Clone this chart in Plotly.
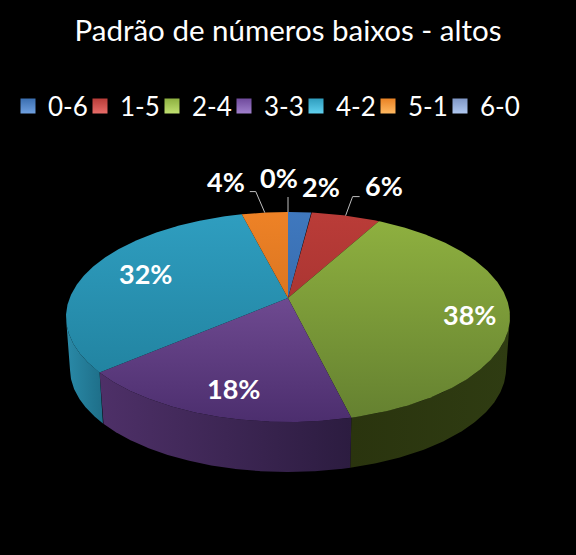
import numpy as np
import plotly.graph_objects as go

categories = ["0-6", "1-5", "2-4", "3-3", "4-2", "5-1", "6-0"]
values = [2, 6, 38.15, 17.65, 32.2, 4, 0]
legend_colors = ["#3A6EB0", "#B83C38", "#8DB040", "#6F4A9C", "#2F9DBE", "#E98224", "#7F97C6"]
legend_shine = ["#6FA0E0", "#E86C68", "#C0E070", "#A080CC", "#60D0EE", "#FFB860", "#B0C8F0"]
top_colors = [("#3F78BE", "#2F5F9C"), ("#BA3C38", "#962C2A"), ("#90B240", "#648030"),
              ("#865DA8", "#4C2E6E"), ("#2F9EC0", "#1E7C98"), ("#EE8226", "#C0641A"), ("#7F97C6", "#7F97C6")]
side_colors = [("#2A4F80", "#2A4F80"), ("#802A28", "#802A28"), ("#2A340E", "#2F3C12"),
               ("#4E3068", "#2C1C40"), ("#2A8AA8", "#1E6E88"), ("#A55A18", "#A55A18"), ("#5A6B8C", "#5A6B8C")]
# label offsets from the slice's rim point, in pixels (right, down)
label_shift = [(21, -26), (38, -30), (-40, 3), (27, -26), (55, 5), (-39, -31), (-9, -35)]
leader_slices = {"1-5": [(7, -19), (14, -19)], "5-1": [(-9, -21), (-15, -21)], "6-0": [(0, -15)]}

W, H = 576, 555
CX, CY, RX, RY = 288, 317, 222, 105
DEPTH, BOT_RX, BOT_RY = 52, 218, 103
TILT = 0.18


def project(theta):
    """Angle clockwise from 12 o'clock to the tilted disc's unit coordinates."""
    u, v = np.sin(theta), np.cos(theta)
    d = 1 + TILT * v
    return u * np.sqrt(1 - TILT ** 2) / d, (v + TILT) / d


apex = (0.0, TILT)
x_scale, y_scale = 1 / RX, 1 / RY

fig = go.Figure()
total = sum(values)
bounds = np.cumsum([0] + values) / total * 2 * np.pi

# side wall (bottom ellipse in top-face units)
for i, name in enumerate(categories):
    if values[i] == 0:
        continue
    th = np.linspace(bounds[i], bounds[i + 1], 240)
    u, v = project(th)
    keep = v <= 0.0
    if keep.sum() < 2:
        continue
    u, v = u[keep], v[keep]
    xb = u * BOT_RX / RX
    yb = v * BOT_RY / RY - DEPTH / RY
    c = side_colors[i]
    fig.add_trace(go.Scatter(
        x=np.r_[u, xb[::-1], u[0]], y=np.r_[v, yb[::-1], v[0]],
        mode="lines", fill="toself", line=dict(width=0), hoverinfo="skip", showlegend=False,
        fillgradient=dict(type="horizontal", colorscale=[[0, c[0]], [1, c[1]]]),
    ))

# top face
for i, name in enumerate(categories):
    if values[i] == 0:
        continue
    th = np.linspace(bounds[i], bounds[i + 1], 240)
    u, v = project(th)
    c = top_colors[i]
    fig.add_trace(go.Scatter(
        x=np.r_[apex[0], u, apex[0]], y=np.r_[apex[1], v, apex[1]],
        mode="lines", fill="toself", line=dict(width=0), hoverinfo="skip", showlegend=False,
        fillgradient=dict(type="vertical", start=1, stop=-1, colorscale=[[0, c[0]], [1, c[1]]]),
    ))

# leaders and labels
annotations = []
for i, name in enumerate(categories):
    mid = (bounds[i] + bounds[i + 1]) / 2
    ex, ey = project(mid)
    if name in leader_slices:
        pts = leader_slices[name]
        fig.add_trace(go.Scatter(
            x=[ex] + [ex + p[0] * x_scale for p in pts],
            y=[ey] + [ey - p[1] * y_scale for p in pts],
            mode="lines", line=dict(color="#BFBFBF", width=1), hoverinfo="skip", showlegend=False,
        ))
    dx, dy = label_shift[i]
    annotations.append(dict(
        x=ex, y=ey, xref="x", yref="y", xshift=dx, yshift=-dy, showarrow=False,
        text=f"<b>{round(values[i])}%</b>", font=dict(family="Lato", size=27, color="white"),
    ))

# legend keys
for i, name in enumerate(categories):
    fig.add_trace(go.Scatter(
        x=[None], y=[None], mode="markers", name=name,
        legendwidth=45 if i == len(categories) - 1 else None,
        marker=dict(symbol="square", size=15, color=legend_colors[i],
                    gradient=dict(type="vertical", color=legend_shine[i])),
    ))

fig.update_layout(
    width=W, height=H, margin=dict(l=0, r=0, t=0, b=0),
    paper_bgcolor="black", plot_bgcolor="black",
    title=dict(text="Padrão de números baixos - altos", x=0.5, xanchor="center",
               y=1 - 31 / H, yanchor="middle", font=dict(family="Lato", size=29.5, color="white")),
    xaxis=dict(visible=False, range=[(0 - CX) / RX, (W - CX) / RX]),
    yaxis=dict(visible=False, range=[(CY - H) / RY, CY / RY]),
    legend=dict(orientation="h", x=8 / W, xanchor="left", y=1 - 106 / H, yanchor="middle",
                entrywidth=27, entrywidthmode="pixels", itemclick=False, itemdoubleclick=False,
                font=dict(family="Lato", size=26, color="white"), bgcolor="rgba(0,0,0,0)"),
    annotations=annotations,
    showlegend=True,
)

fig.write_html("out.html", config=dict(displayModeBar=False),
               post_script="document.body.style.margin='0';document.body.style.background='black';")
